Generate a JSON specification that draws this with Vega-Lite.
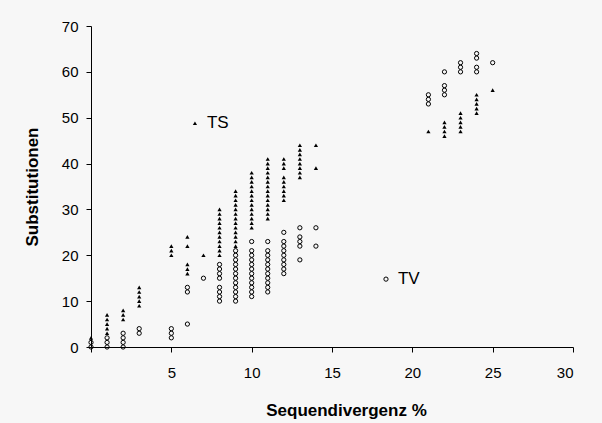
{
  "$schema": "https://vega.github.io/schema/vega-lite/v6.json",
  "width": 482,
  "height": 321,
  "autosize": {"type": "none"},
  "padding": {"left": 91, "top": 26, "right": 29, "bottom": 76},
  "background": "#f7f7f7",
  "config": {
    "font": "Liberation Sans",
    "view": {"stroke": null},
    "axis": {
      "grid": false,
      "domainColor": "#000000",
      "tickColor": "#000000",
      "tickSize": 5,
      "labelColor": "#000000",
      "labelFontSize": 15,
      "titleColor": "#000000",
      "titleFontSize": 17,
      "titleFontWeight": "bold"
    }
  },
  "data": {
    "values": [
      {"x": 0, "y": 2, "t": "TS"},
      {"x": 1, "y": 3, "t": "TS"}, {"x": 1, "y": 4, "t": "TS"}, {"x": 1, "y": 5, "t": "TS"}, {"x": 1, "y": 6, "t": "TS"}, {"x": 1, "y": 7, "t": "TS"},
      {"x": 2, "y": 6, "t": "TS"}, {"x": 2, "y": 7, "t": "TS"}, {"x": 2, "y": 8, "t": "TS"},
      {"x": 3, "y": 9, "t": "TS"}, {"x": 3, "y": 10, "t": "TS"}, {"x": 3, "y": 11, "t": "TS"}, {"x": 3, "y": 12, "t": "TS"}, {"x": 3, "y": 13, "t": "TS"},
      {"x": 5, "y": 20, "t": "TS"}, {"x": 5, "y": 21, "t": "TS"}, {"x": 5, "y": 22, "t": "TS"},
      {"x": 6, "y": 16, "t": "TS"}, {"x": 6, "y": 17, "t": "TS"}, {"x": 6, "y": 18, "t": "TS"}, {"x": 6, "y": 22, "t": "TS"}, {"x": 6, "y": 24, "t": "TS"},
      {"x": 7, "y": 20, "t": "TS"},
      {"x": 8, "y": 20, "t": "TS"}, {"x": 8, "y": 21, "t": "TS"}, {"x": 8, "y": 22, "t": "TS"}, {"x": 8, "y": 23, "t": "TS"}, {"x": 8, "y": 24, "t": "TS"}, {"x": 8, "y": 25, "t": "TS"}, {"x": 8, "y": 26, "t": "TS"}, {"x": 8, "y": 27, "t": "TS"}, {"x": 8, "y": 28, "t": "TS"}, {"x": 8, "y": 29, "t": "TS"}, {"x": 8, "y": 30, "t": "TS"},
      {"x": 9, "y": 22, "t": "TS"}, {"x": 9, "y": 23, "t": "TS"}, {"x": 9, "y": 24, "t": "TS"}, {"x": 9, "y": 25, "t": "TS"}, {"x": 9, "y": 26, "t": "TS"}, {"x": 9, "y": 27, "t": "TS"}, {"x": 9, "y": 28, "t": "TS"}, {"x": 9, "y": 29, "t": "TS"}, {"x": 9, "y": 30, "t": "TS"}, {"x": 9, "y": 31, "t": "TS"}, {"x": 9, "y": 32, "t": "TS"}, {"x": 9, "y": 33, "t": "TS"}, {"x": 9, "y": 34, "t": "TS"},
      {"x": 10, "y": 26, "t": "TS"}, {"x": 10, "y": 27, "t": "TS"}, {"x": 10, "y": 28, "t": "TS"}, {"x": 10, "y": 29, "t": "TS"}, {"x": 10, "y": 30, "t": "TS"}, {"x": 10, "y": 31, "t": "TS"}, {"x": 10, "y": 32, "t": "TS"}, {"x": 10, "y": 33, "t": "TS"}, {"x": 10, "y": 34, "t": "TS"}, {"x": 10, "y": 35, "t": "TS"}, {"x": 10, "y": 36, "t": "TS"}, {"x": 10, "y": 37, "t": "TS"}, {"x": 10, "y": 38, "t": "TS"},
      {"x": 11, "y": 28, "t": "TS"}, {"x": 11, "y": 29, "t": "TS"}, {"x": 11, "y": 30, "t": "TS"}, {"x": 11, "y": 31, "t": "TS"}, {"x": 11, "y": 32, "t": "TS"}, {"x": 11, "y": 33, "t": "TS"}, {"x": 11, "y": 34, "t": "TS"}, {"x": 11, "y": 35, "t": "TS"}, {"x": 11, "y": 36, "t": "TS"}, {"x": 11, "y": 37, "t": "TS"}, {"x": 11, "y": 38, "t": "TS"}, {"x": 11, "y": 39, "t": "TS"}, {"x": 11, "y": 40, "t": "TS"}, {"x": 11, "y": 41, "t": "TS"},
      {"x": 12, "y": 32, "t": "TS"}, {"x": 12, "y": 33, "t": "TS"}, {"x": 12, "y": 34, "t": "TS"}, {"x": 12, "y": 35, "t": "TS"}, {"x": 12, "y": 36, "t": "TS"}, {"x": 12, "y": 37, "t": "TS"}, {"x": 12, "y": 39, "t": "TS"}, {"x": 12, "y": 40, "t": "TS"}, {"x": 12, "y": 41, "t": "TS"},
      {"x": 13, "y": 37, "t": "TS"}, {"x": 13, "y": 38, "t": "TS"}, {"x": 13, "y": 39, "t": "TS"}, {"x": 13, "y": 40, "t": "TS"}, {"x": 13, "y": 41, "t": "TS"}, {"x": 13, "y": 42, "t": "TS"}, {"x": 13, "y": 43, "t": "TS"}, {"x": 13, "y": 44, "t": "TS"},
      {"x": 14, "y": 39, "t": "TS"}, {"x": 14, "y": 44, "t": "TS"},
      {"x": 21, "y": 47, "t": "TS"},
      {"x": 22, "y": 46, "t": "TS"}, {"x": 22, "y": 47, "t": "TS"}, {"x": 22, "y": 48, "t": "TS"}, {"x": 22, "y": 49, "t": "TS"},
      {"x": 23, "y": 47, "t": "TS"}, {"x": 23, "y": 48, "t": "TS"}, {"x": 23, "y": 49, "t": "TS"}, {"x": 23, "y": 50, "t": "TS"}, {"x": 23, "y": 51, "t": "TS"},
      {"x": 24, "y": 51, "t": "TS"}, {"x": 24, "y": 52, "t": "TS"}, {"x": 24, "y": 53, "t": "TS"}, {"x": 24, "y": 54, "t": "TS"}, {"x": 24, "y": 55, "t": "TS"},
      {"x": 25, "y": 56, "t": "TS"},
      {"x": 6.47, "y": 48.8, "t": "TS", "label": "TS"},
      {"x": 0, "y": 0, "t": "TV"}, {"x": 0, "y": 1, "t": "TV"},
      {"x": 1, "y": 0, "t": "TV"}, {"x": 1, "y": 1, "t": "TV"}, {"x": 1, "y": 2, "t": "TV"},
      {"x": 2, "y": 0, "t": "TV"}, {"x": 2, "y": 1, "t": "TV"}, {"x": 2, "y": 2, "t": "TV"}, {"x": 2, "y": 3, "t": "TV"},
      {"x": 3, "y": 3, "t": "TV"}, {"x": 3, "y": 4, "t": "TV"},
      {"x": 5, "y": 2, "t": "TV"}, {"x": 5, "y": 3, "t": "TV"}, {"x": 5, "y": 4, "t": "TV"},
      {"x": 6, "y": 5, "t": "TV"}, {"x": 6, "y": 12, "t": "TV"}, {"x": 6, "y": 13, "t": "TV"},
      {"x": 7, "y": 15, "t": "TV"},
      {"x": 8, "y": 10, "t": "TV"}, {"x": 8, "y": 11, "t": "TV"}, {"x": 8, "y": 12, "t": "TV"}, {"x": 8, "y": 13, "t": "TV"}, {"x": 8, "y": 15, "t": "TV"}, {"x": 8, "y": 16, "t": "TV"}, {"x": 8, "y": 17, "t": "TV"}, {"x": 8, "y": 18, "t": "TV"},
      {"x": 9, "y": 10, "t": "TV"}, {"x": 9, "y": 11, "t": "TV"}, {"x": 9, "y": 12, "t": "TV"}, {"x": 9, "y": 13, "t": "TV"}, {"x": 9, "y": 14, "t": "TV"}, {"x": 9, "y": 15, "t": "TV"}, {"x": 9, "y": 16, "t": "TV"}, {"x": 9, "y": 17, "t": "TV"}, {"x": 9, "y": 18, "t": "TV"}, {"x": 9, "y": 19, "t": "TV"}, {"x": 9, "y": 20, "t": "TV"}, {"x": 9, "y": 21, "t": "TV"},
      {"x": 10, "y": 11, "t": "TV"}, {"x": 10, "y": 12, "t": "TV"}, {"x": 10, "y": 13, "t": "TV"}, {"x": 10, "y": 14, "t": "TV"}, {"x": 10, "y": 15, "t": "TV"}, {"x": 10, "y": 16, "t": "TV"}, {"x": 10, "y": 17, "t": "TV"}, {"x": 10, "y": 18, "t": "TV"}, {"x": 10, "y": 19, "t": "TV"}, {"x": 10, "y": 20, "t": "TV"}, {"x": 10, "y": 21, "t": "TV"}, {"x": 10, "y": 23, "t": "TV"},
      {"x": 11, "y": 12, "t": "TV"}, {"x": 11, "y": 13, "t": "TV"}, {"x": 11, "y": 14, "t": "TV"}, {"x": 11, "y": 15, "t": "TV"}, {"x": 11, "y": 16, "t": "TV"}, {"x": 11, "y": 17, "t": "TV"}, {"x": 11, "y": 18, "t": "TV"}, {"x": 11, "y": 19, "t": "TV"}, {"x": 11, "y": 20, "t": "TV"}, {"x": 11, "y": 21, "t": "TV"}, {"x": 11, "y": 23, "t": "TV"},
      {"x": 12, "y": 16, "t": "TV"}, {"x": 12, "y": 17, "t": "TV"}, {"x": 12, "y": 18, "t": "TV"}, {"x": 12, "y": 19, "t": "TV"}, {"x": 12, "y": 20, "t": "TV"}, {"x": 12, "y": 21, "t": "TV"}, {"x": 12, "y": 22, "t": "TV"}, {"x": 12, "y": 23, "t": "TV"}, {"x": 12, "y": 25, "t": "TV"},
      {"x": 13, "y": 19, "t": "TV"}, {"x": 13, "y": 22, "t": "TV"}, {"x": 13, "y": 23, "t": "TV"}, {"x": 13, "y": 24, "t": "TV"}, {"x": 13, "y": 26, "t": "TV"},
      {"x": 14, "y": 22, "t": "TV"}, {"x": 14, "y": 26, "t": "TV"},
      {"x": 21, "y": 53, "t": "TV"}, {"x": 21, "y": 54, "t": "TV"}, {"x": 21, "y": 55, "t": "TV"},
      {"x": 22, "y": 55, "t": "TV"}, {"x": 22, "y": 56, "t": "TV"}, {"x": 22, "y": 57, "t": "TV"}, {"x": 22, "y": 60, "t": "TV"},
      {"x": 23, "y": 60, "t": "TV"}, {"x": 23, "y": 61, "t": "TV"}, {"x": 23, "y": 62, "t": "TV"},
      {"x": 24, "y": 60, "t": "TV"}, {"x": 24, "y": 61, "t": "TV"}, {"x": 24, "y": 63, "t": "TV"}, {"x": 24, "y": 64, "t": "TV"},
      {"x": 25, "y": 62, "t": "TV"},
      {"x": 18.36, "y": 14.8, "t": "TV", "label": "TV"}
    ]
  },
  "encoding": {
    "x": {
      "field": "x", "type": "quantitative",
      "scale": {"domain": [0, 30], "nice": false, "zero": false},
      "axis": {
        "values": [0, 5, 10, 15, 20, 25, 30],
        "labelExpr": "datum.value == 0 ? '' : datum.label",
        "labelPadding": 13,
        "title": "Sequendivergenz %",
        "titlePadding": 22,
        "titleX": 255
      }
    },
    "y": {
      "field": "y", "type": "quantitative",
      "scale": {"domain": [0, 70], "nice": false},
      "axis": {
        "values": [0, 10, 20, 30, 40, 50, 60, 70],
        "labelPadding": 8,
        "title": "Substitutionen",
        "titlePadding": 20
      }
    }
  },
  "layer": [
    {
      "transform": [{"filter": "datum.t == 'TS'"}],
      "mark": {"type": "point", "shape": "triangle-up", "filled": true, "color": "#000000", "size": 18, "opacity": 1}
    },
    {
      "transform": [{"filter": "datum.t == 'TV'"}],
      "mark": {"type": "point", "shape": "circle", "filled": false, "color": "#000000", "size": 18, "strokeWidth": 1, "opacity": 1}
    },
    {
      "transform": [{"filter": "isValid(datum.label)"}],
      "mark": {"type": "text", "align": "left", "baseline": "middle", "dx": 12, "fontSize": 17, "color": "#000000"},
      "encoding": {"text": {"field": "label", "type": "nominal"}}
    }
  ]
}
